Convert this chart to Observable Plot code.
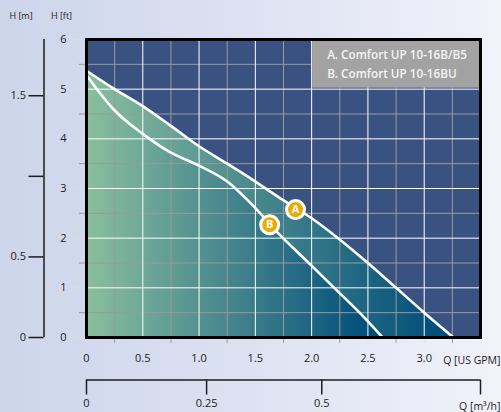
<!DOCTYPE html>
<html>
<head>
<meta charset="utf-8">
<script src="https://cdn.jsdelivr.net/npm/d3@7"></script>
<script src="https://cdn.jsdelivr.net/npm/@observablehq/plot@0.6"></script>
<style>
html,body{margin:0;padding:0;width:501px;height:412px;overflow:hidden;background:linear-gradient(90deg,#ccd5ea 0%,#dde2f2 50%,#f1f2fa 100%);}
svg{display:block;background:transparent!important;}
</style>
</head>
<body>
<div id="c"></div>
<script>
const qA = [0, 0.25, 0.5, 0.75, 1.0, 1.25, 1.46, 1.75, 2.0, 2.24, 2.5, 2.75, 3.0, 3.26];
const hA = [5.37, 5.0, 4.66, 4.26, 3.85, 3.5, 3.2, 2.76, 2.4, 1.99, 1.5, 1.0, 0.5, 0];
const qB = [0, 0.25, 0.5, 0.75, 1.0, 1.25, 1.46, 1.715, 1.975, 2.2, 2.43, 2.63];
const hB = [5.28, 4.57, 4.1, 3.72, 3.46, 3.14, 2.7, 2.07, 1.5, 1.0, 0.49, 0];
const qMajor = [0, 0.5, 1, 1.5, 2, 2.5, 3];
const qMinor = [0.25, 0.75, 1.25, 1.75, 2.25, 2.75, 3.25];
const qEnd = 3.5;
const hMajor = [0, 1, 2, 3, 4, 5, 6];
const hMinor = [0.5, 1.5, 2.5, 3.5, 4.5, 5.5];
const mValues = [0, 0.5, 1, 1.5];
const mLabels = ["0", "0.5", "", "1.5"];
const ftPerM = 3.245;
const m3PosInGpm = [0, 1.067, 2.09, 3.5];
const m3Labels = ["0", "0.25", "0.5", ""];
const legendA = "A. Comfort UP 10-16B/B5";
const legendB = "B. Comfort UP 10-16BU";
const badges = ["A", "B"];
const badgeQ = [1.857, 1.627];
const badgeH = [2.575, 2.27];

const font = "'Open Sans','Noto Sans',sans-serif";
const ink = "#1c1c22";

const grad = (id) => (s) => {
  const g = s.append("linearGradient").attr("id", id);
  g.append("stop").attr("offset", "0").attr("stop-color", "#8abf9f");
  g.append("stop").attr("offset", "0.97").attr("stop-color", "#004c7a");
};

const chart = Plot.plot({
  width: 501, height: 412,
  marginLeft: 86, marginRight: 21, marginTop: 39, marginBottom: 75,
  style: {fontFamily: font, fontSize: "11px", background: "transparent", overflow: "visible"},
  x: {domain: [0, qEnd], axis: null},
  y: {domain: [0, 6], axis: null},
  marks: [
    () => {
      const d = d3.create("svg:defs");
      d.call(grad("gradA"));
      d.call(grad("gradB"));
      return d.node();
    },
    Plot.frame({fill: "#3a5282", stroke: "none"}),
    Plot.areaY(qA, {x: qA, y: hA, fill: "url(#gradA)", curve: "monotone-x"}),
    Plot.areaY(qB, {x: qB, y: hB, fill: "url(#gradB)", curve: "monotone-x"}),
    // grid
    Plot.ruleX(qMinor, {x: d => d, stroke: "#9a9a9a", strokeWidth: 1}),
    Plot.ruleY(hMinor, {y: d => d, stroke: "#9a9a9a", strokeWidth: 1}),
    Plot.ruleX(qMajor, {x: d => d, stroke: "#fff", strokeWidth: 1}),
    Plot.ruleY(hMajor, {y: d => d, stroke: "#fff", strokeWidth: 1}),
    // legend panel
    Plot.rectY([0], {x1: 2, x2: qEnd, y1: 5, y2: 6, fill: "#a3a3a3", insetLeft: 1, insetBottom: 1}),
    // curves
    Plot.line(qA, {x: qA, y: hA, stroke: "#fff", strokeWidth: 2.6, curve: "monotone-x"}),
    Plot.line(qB, {x: qB, y: hB, stroke: "#fff", strokeWidth: 2.6, curve: "monotone-x"}),
    // badges
    Plot.dot(badges, {x: badgeQ, y: badgeH, r: 9, fill: "#e6ae00", stroke: "#fff", strokeWidth: 3}),
    Plot.text(badges, {x: badgeQ, y: badgeH, text: d => d, fill: "#fff", fontWeight: 700, fontSize: 11}),
    // primary axes
    Plot.axisX({ticks: qMinor, tickSize: 6, tickFormat: () => "", stroke: "#9a9a9a"}),
    Plot.axisX({ticks: qMajor, tickSize: 6, tickPadding: 11, tickFormat: d => d === 0 ? "0" : d.toFixed(1), stroke: "#ddd", fill: ink}),
    Plot.axisY({ticks: hMinor, tickSize: 7, tickFormat: () => "", stroke: "#9a9a9a"}),
    Plot.axisY({ticks: hMajor, tickSize: 13, tickPadding: 7, tickFormat: d => String(d), stroke: "#ddd", fill: ink}),
    Plot.frame({stroke: "#000", strokeWidth: 3}),
    // H [m] axis
    Plot.ruleX([0], {dx: -42.5, y1: 0, y2: 6, stroke: ink, strokeWidth: 1.5}),
    Plot.axisY({ticks: mValues.map(d => d * ftPerM), dx: -42.5, tickSize: 15, tickPadding: 3,
      tickFormat: (d) => mLabels[mValues.findIndex(m => Math.abs(m * ftPerM - d) < 1e-6)],
      stroke: ink, strokeWidth: 1.5, fill: ink}),
    // Q [m3/h] axis
    Plot.ruleY([0], {dy: 42.5, x1: 0, x2: qEnd, stroke: ink, strokeWidth: 1.5}),
    Plot.axisX({ticks: m3PosInGpm, dy: 42.5, tickSize: 15, tickPadding: 4,
      tickFormat: d => m3Labels[m3PosInGpm.indexOf(d)], stroke: ink, strokeWidth: 1.5, fill: ink}),
    // axis titles
    Plot.text(["H [m]"], {x: [0], y: [6], dx: -65.5, dy: -23, text: d => d, fill: ink, fontSize: 9}),
    Plot.text(["H [ft]"], {x: [0], y: [6], dx: -25, dy: -23, text: d => d, fill: ink, fontSize: 9}),
    Plot.text(["Q [US GPM]"], {x: [qEnd], y: [0], dx: 20, dy: 23, textAnchor: "end", text: d => d, fill: ink, fontSize: 10.5}),
    Plot.text(["Q [m³/h]"], {x: [qEnd], y: [0], dx: 20, dy: 69, textAnchor: "end", text: d => d, fill: ink, fontSize: 10.5}),
    // legend text
    Plot.text([legendA], {x: [2], y: [6], dx: 15.5, dy: 15.7, text: d => d, textAnchor: "start", fill: "#f4f4f4", fontWeight: 600, fontSize: 11.7}),
    Plot.text([legendB], {x: [2], y: [6], dx: 15.5, dy: 34.5, text: d => d, textAnchor: "start", fill: "#f4f4f4", fontWeight: 600, fontSize: 11.7})
  ]
});
document.getElementById("c").appendChild(chart);
</script>
</body>
</html>
